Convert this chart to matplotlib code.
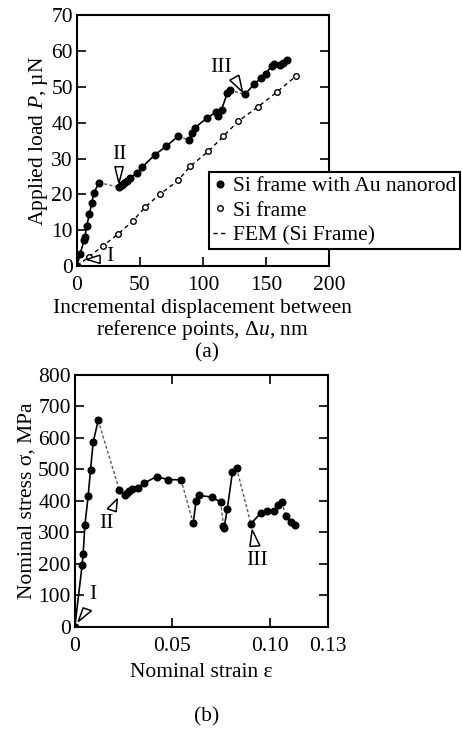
import matplotlib
matplotlib.use("Agg")
import matplotlib.pyplot as plt
from matplotlib.patches import Polygon
from matplotlib.transforms import Affine2D, ScaledTranslation
from matplotlib.lines import Line2D

plt.rcParams['font.family'] = ['Liberation Serif', 'DejaVu Serif']
plt.rcParams['mathtext.fontset'] = 'custom'
plt.rcParams['mathtext.rm'] = 'Liberation Serif'
plt.rcParams['mathtext.it'] = 'Liberation Serif:italic'
FS = 15.5
plt.rcParams['font.size'] = FS

# (a) load vs displacement, Si frame with Au nanorod
u_au = [0, 2.4, 5.6, 6.3, 7.7, 9.8, 11.6, 13.5, 17.5,
        33.3, 35.4, 37.6, 39.4, 42.0, 47.3, 52.0, 62.0, 71.0, 80.4,
        89.1, 91.0, 93.7, 103.4, 110.3, 112.2, 114.8, 119.3, 121.4,
        133.3, 140.5, 145.8, 149.8, 154.5, 156.3, 161.1, 163.7, 166.4]
p_au = [0, 3.3, 7.2, 8.2, 11.2, 14.5, 17.5, 20.5, 23.3,
        22.0, 22.6, 23.2, 23.7, 24.5, 26.0, 27.7, 31.1, 33.5, 36.3,
        35.1, 37.2, 38.6, 41.4, 42.9, 41.8, 43.7, 48.2, 49.1,
        47.9, 50.7, 52.4, 53.7, 55.8, 56.5, 56.1, 56.8, 57.4]
breaks_au = [9, 19, 28]

# (a) Si frame only / FEM
u_si = [0, 9.5, 20.4, 32.8, 44.7, 54.0, 65.9, 80.4, 89.7, 104.2, 116.1, 128.0, 143.9, 158.5, 173.8]
p_si = [0, 2.6, 5.6, 9.0, 12.7, 16.4, 20.1, 23.9, 27.8, 32.0, 36.2, 40.4, 44.5, 48.5, 53.0]

# (b) nominal stress vs strain
eps = [0, 0.00375, 0.00427, 0.00514, 0.00685, 0.00805, 0.0094, 0.0120,
       0.0228, 0.0257, 0.0269, 0.0279, 0.0291, 0.0325, 0.0355, 0.0420, 0.0480, 0.0545,
       0.0608, 0.0622, 0.0639, 0.0702, 0.0749,
       0.0763, 0.0766, 0.0783, 0.0809, 0.0831,
       0.0904, 0.0954, 0.0989, 0.1023, 0.1045, 0.1062,
       0.1084, 0.1108, 0.1130]
sig = [0, 197, 232, 322, 416, 498, 586, 655,
       435, 417, 424, 432, 437, 440, 456, 477, 467, 467,
       329, 398, 417, 412, 396,
       321, 313, 375, 491, 503,
       327, 361, 369, 369, 387, 396,
       352, 332, 324]
breaks_b = [8, 18, 23, 28, 34]


def draw_series(ax, x, y, breaks):
    edges = [0] + breaks + [len(x)]
    for a, b in zip(edges[:-1], edges[1:]):
        ax.plot(x[a:b], y[a:b], '-', color='black', lw=1.2, marker='o', ms=4.8, zorder=3)
    for b in breaks:
        ax.plot(x[b - 1:b + 1], y[b - 1:b + 1], color='0.35', lw=1.0,
                ls=(0, (2.2, 1.6)), zorder=2)


def triangle(ax, x, y, verts, label, text_off):
    fig = ax.figure
    tr = Affine2D().scale(fig.dpi / 72.0) + ScaledTranslation(x, y, ax.transData)
    ax.add_patch(Polygon(verts, closed=True, fc='white', ec='black', lw=1.1,
                         transform=tr, zorder=4, clip_on=False))
    ax.annotate(label, (x, y), xytext=text_off, textcoords='offset points',
                ha='center', va='center', fontsize=FS)


def style_axes(ax):
    for s in ax.spines.values():
        s.set_linewidth(1.5)
    ax.tick_params(direction='in', length=6.5, width=1.2, labelsize=FS, pad=3)
    ax.tick_params(axis='x', pad=7)


fig = plt.figure(figsize=(4.62, 7.29), dpi=100)

# ---- (a)
ax1 = fig.add_axes([0.1667, 0.635, 0.545, 0.344])
ax1.plot(u_si, p_si, color='black', lw=1.0, ls=(0, (3, 2.5)), zorder=2)
ax1.plot(u_si, p_si, ls='none', marker='o', ms=4.0, mfc='white', mec='black', mew=1.0, zorder=3)
draw_series(ax1, u_au, p_au, breaks_au)
ax1.set_xlim(0, 200)
ax1.set_ylim(0, 70)
ax1.set_xticks([0, 50, 100, 150, 200])
ax1.set_yticks(range(0, 71, 10))
style_axes(ax1)
ax1.tick_params(left=True, right=True, bottom=True, top=False)
ax1.set_xlabel('Incremental displacement between\nreference points, Δ$u$, nm',
               linespacing=1.0, labelpad=3)
ax1.set_ylabel('Applied load $P$, µN', labelpad=1)

triangle(ax1, u_au[0], p_au[0], [(7, 4.8), (16.6, 7.9), (16.6, 1.9)], 'I', (23.3, 6.7))
triangle(ax1, u_au[9], p_au[9], [(0, 2.9), (-2.9, 14.8), (3.1, 14.8)], 'II', (0, 23.3))
triangle(ax1, u_au[28], p_au[28], [(-1.7, 1.9), (-10.8, 10.3), (-4.3, 13.9)], 'III', (-16.8, 19.2))

handles = [Line2D([], [], ls='none', marker='o', ms=4.8, color='black'),
           Line2D([], [], ls='none', marker='o', ms=4.0, mfc='white', mec='black', mew=1.0),
           Line2D([], [], color='black', lw=1.0, ls=(0, (3, 2.5)))]
leg = fig.legend(handles, ['Si frame with Au nanorod', 'Si frame', 'FEM (Si Frame)'],
                 loc='upper left', bbox_to_anchor=(0.452, 0.764), fontsize=FS,
                 handlelength=0.6, handletextpad=0.3, borderpad=0.2, labelspacing=0.2,
                 borderaxespad=0, fancybox=False, framealpha=1)
leg.get_frame().set_edgecolor('black')
leg.get_frame().set_linewidth(1.5)

fig.text(0.448, 0.516, '(a)', ha='center', va='center', fontsize=FS)

# ---- (b)
ax2 = fig.add_axes([0.162, 0.140, 0.548, 0.346])
draw_series(ax2, eps, sig, breaks_b)
ax2.set_xlim(0, 0.13)
ax2.set_ylim(0, 800)
ax2.set_xticks([0, 0.05, 0.10, 0.13])
ax2.set_xticklabels(['0', '0.05', '0.10', '0.13'])
ax2.set_yticks(range(0, 801, 100))
style_axes(ax2)
ax2.tick_params(left=True, right=True, bottom=True, top=True)
ax2.set_xlabel('Nominal strain ε', labelpad=5)
ax2.set_ylabel('Nominal stress σ, MPa', labelpad=1)

triangle(ax2, eps[0], sig[0], [(2.4, 3.8), (6, 13.7), (12, 11.7)], 'I', (12.7, 23))
triangle(ax2, eps[8], sig[8], [(-1.4, -6.5), (-8.6, -13.7), (-2.2, -15.8)], 'II', (-9, -24))
triangle(ax2, eps[28], sig[28], [(0.9, -4.3), (-0.7, -16.3), (6.5, -15.8)], 'III', (4.5, -26.4))

fig.text(0.447, 0.017, '(b)', ha='center', va='center', fontsize=FS)

fig.savefig('out.png', dpi=100)
